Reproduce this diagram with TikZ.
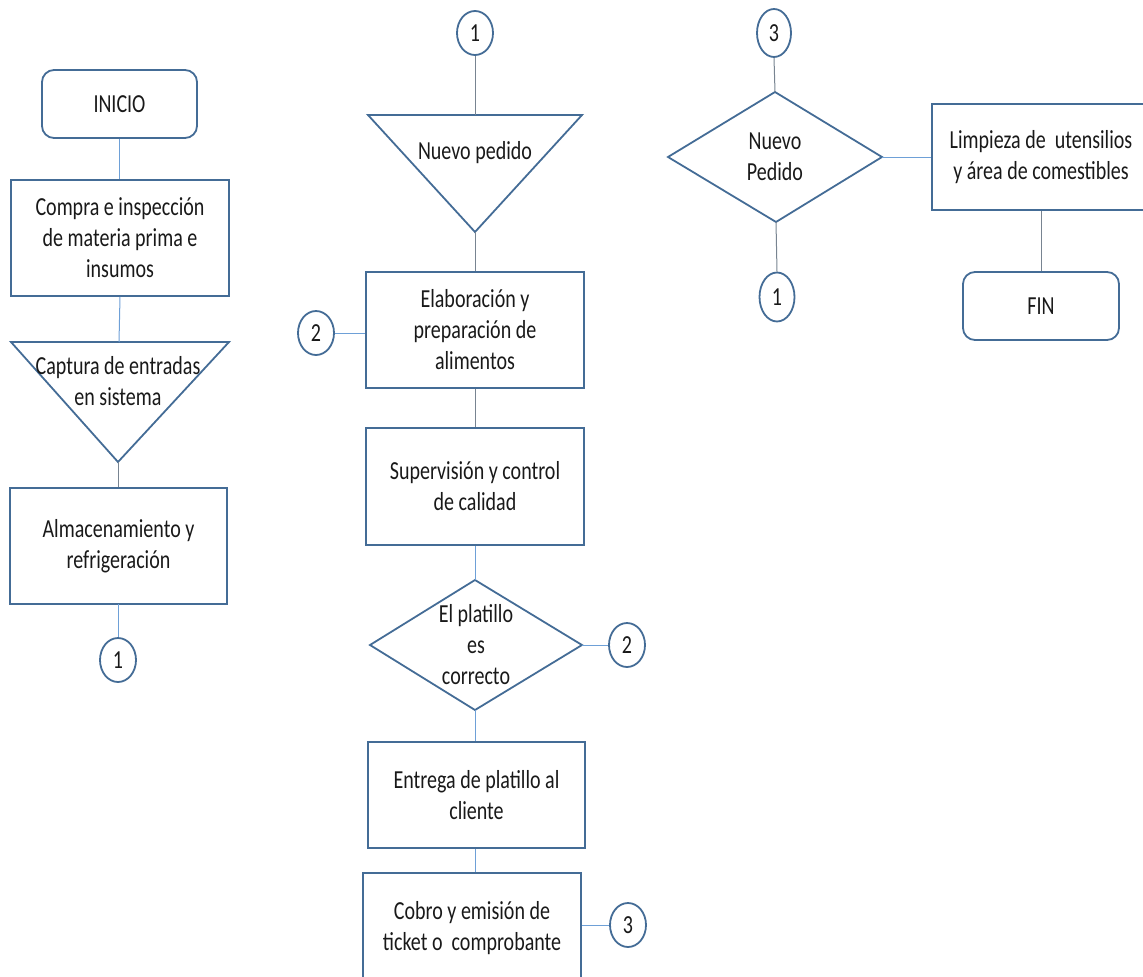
\documentclass[tikz,border=0pt]{standalone}
\usepackage{fontspec}
\setmainfont{Carlito}[FakeStretch=0.77]
\usetikzlibrary{shapes.geometric}
\definecolor{outl}{RGB}{68,108,150}
\definecolor{connb}{RGB}{110,160,215}
\definecolor{conng}{RGB}{120,132,145}
\definecolor{txt}{RGB}{25,25,25}
\begin{document}
\begin{tikzpicture}[x=1pt,y=-1pt, font=\fontsize{26}{31}\selectfont, text=txt,
  box/.style={draw=outl, line width=1.8pt, minimum width=218pt, minimum height=116pt, align=center, inner sep=0pt},
  term/.style={box, rounded corners=12pt, minimum width=155pt, minimum height=68pt},
  conn/.style={ellipse, draw=outl, line width=1.8pt, minimum width=36pt, minimum height=44pt, inner sep=0pt},
  lb/.style={draw=connb, line width=1pt},
  lg/.style={draw=conng, line width=1pt},
  shp/.style={draw=outl, line width=1.8pt, line join=miter},
  lbl/.style={align=center, inner sep=0pt}]
\clip (0,0) rectangle (1143,977);
% left column
\node[term] (inicio) at (119.5,104) {INICIO};
\node[box] (compra) at (120,238) {Compra e inspección\\de materia prima e\\insumos};
\coordinate (capTL) at (11,342);
\coordinate (capTR) at (229,342);
\coordinate (capT) at (119,342);
\coordinate (capA) at (118,462);
\draw[shp] (capTL) -- (capTR) -- (capA) -- cycle;
\node[lbl] (captura) at (118,381) {Captura de entradas\\en sistema};
\node[box, minimum width=217pt] (alma) at (118.5,546) {Almacenamiento y\\refrigeración};
\node[conn] (c1a) at (118,660) {1};
\draw[lb] (inicio.south) -- (inicio.south |- compra.north);
\draw[lb] (compra.south) -- (capT);
\draw[lg] (capA) -- (capA |- alma.north);
\draw[lb] (alma.south) -- (alma.south -| c1a.north) -- (c1a.north);
% middle column
\node[conn] (c1b) at (475,33) {1};
\coordinate (npTL) at (368,115);
\coordinate (npTR) at (582,115);
\coordinate (npT) at (475,115);
\coordinate (npA) at (475,232);
\draw[shp] (npTL) -- (npTR) -- (npA) -- cycle;
\node[lbl] (np) at (475,153) {Nuevo pedido};
\node[box] (elab) at (475,330) {Elaboración y\\preparación de\\alimentos};
\node[conn] (c2a) at (316,333) {2};
\node[box, minimum height=117pt] (sup) at (475,486.5) {Supervisión y control\\de calidad};
\coordinate (dT) at (475,580);
\coordinate (dL) at (370,645);
\coordinate (dR) at (582,645);
\coordinate (dB) at (475,710);
\draw[shp] (dT) -- (dR) -- (dB) -- (dL) -- cycle;
\node[lbl] (plat) at (476,645) {El platillo\\es\\correcto};
\node[conn] (c2b) at (627,645) {2};
\node[box, minimum height=106pt, minimum width=217pt] (ent) at (476.5,795) {Entrega de platillo al\\cliente};
\node[box, minimum height=110pt] (cobro) at (472,928) {Cobro y emisión de\\ticket o\ \ comprobante};
\node[conn] (c3a) at (628,925) {3};
\draw[lg] (c1b.south) -- (npT);
\draw[lg] (npA) -- (npA |- elab.north);
\draw[lb] (c2a.east) -- (c2a.east -| elab.west);
\draw[lg] (elab.south) -- (sup.north);
\draw[lb] (sup.south) -- (dT);
\draw[lb] (dR) -- (c2b.west);
\draw[lb] (dB) -- (dB |- ent.north);
\draw[lb] (ent.south -| dB) -- (dB |- cobro.north);
\draw[lb] (cobro.east |- c3a.west) -- (c3a.west);
% right group
\node[conn, minimum width=34pt, minimum height=48pt] (c3b) at (774,33) {3};
\coordinate (eT) at (775,92);
\coordinate (eL) at (668,157);
\coordinate (eR) at (882,157);
\coordinate (eB) at (776,222);
\draw[shp] (eT) -- (eR) -- (eB) -- (eL) -- cycle;
\node[lbl] (nped) at (775,157) {Nuevo\\Pedido};
\node[conn, minimum width=35pt, minimum height=49pt] (c1c) at (777,297) {1};
\node[box, minimum height=106pt] (limp) at (1041,157) {Limpieza de\ \ utensilios\\y área de comestibles};
\node[term, minimum width=156pt] (fin) at (1041,306) {FIN};
\draw[lg] (c3b.south) -- (eT);
\draw[lg] (eB) -- (c1c.north);
\draw[lb] (eR) -- (limp.west);
\draw[lg] (limp.south) -- (fin.north);
\end{tikzpicture}
\end{document}
